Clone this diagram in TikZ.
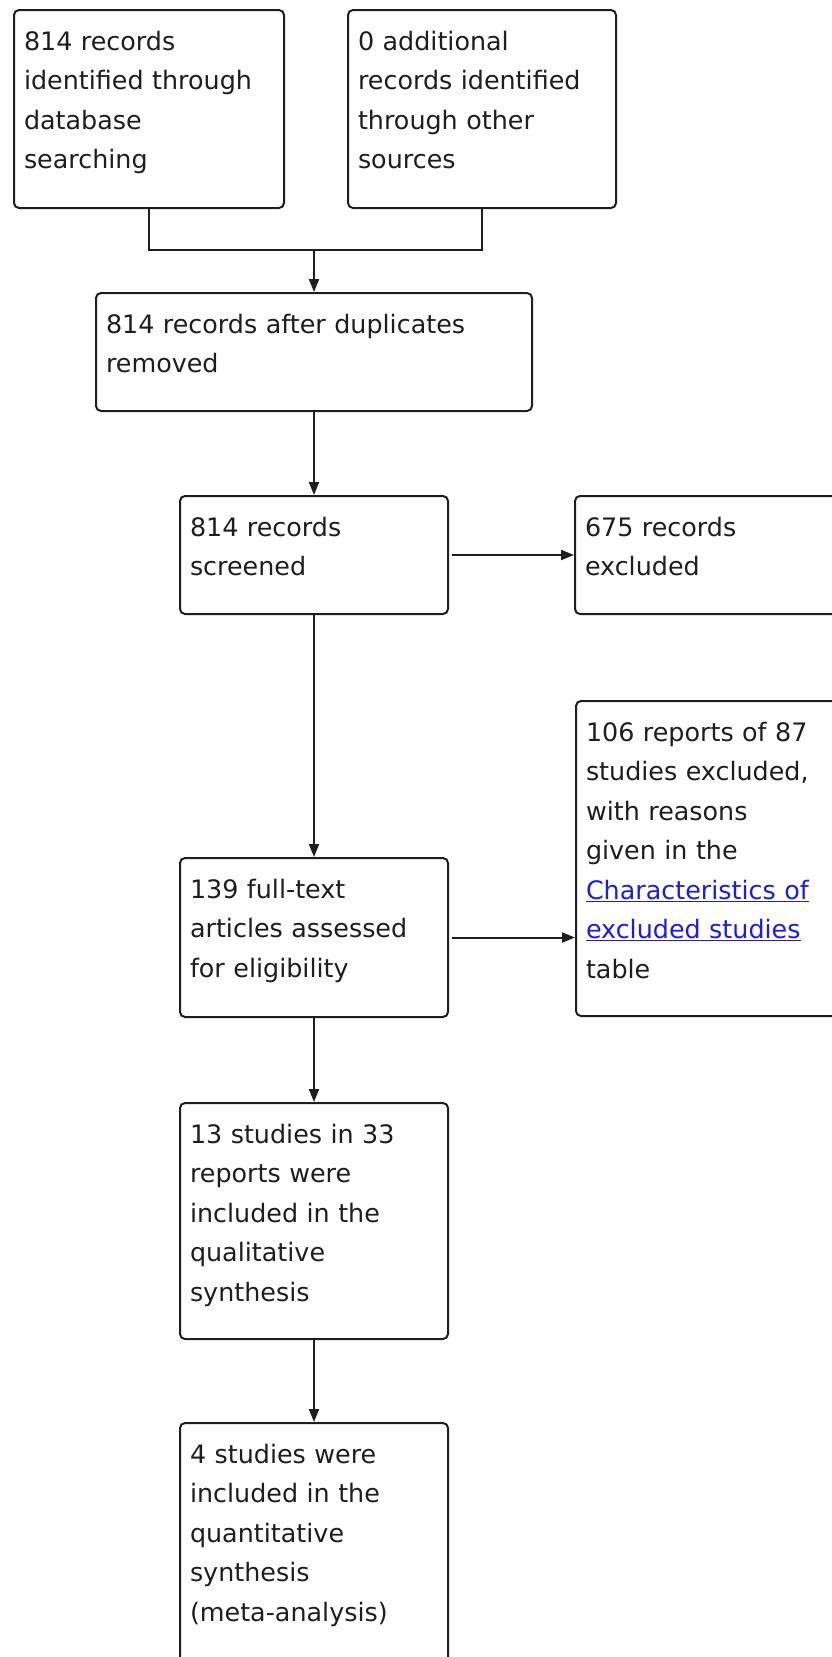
\documentclass[tikz,border=0pt]{standalone}
\usepackage{fontspec}
\usetikzlibrary{positioning,arrows.meta,calc}
\newfontfamily\prismafont{DejaVu Sans}
\newcommand{\boxfont}{\prismafont\fontsize{25.4pt}{39.5pt}\selectfont}
\definecolor{linkblue}{RGB}{28,28,232}
\definecolor{inkgray}{RGB}{30,30,30}
\tikzset{
  flowbox/.style={draw=inkgray,line width=2pt,rounded corners=5pt,align=left,
                  font=\boxfont,text=inkgray,inner xsep=10pt,inner ysep=0pt,
                  text height=40pt,anchor=north west},
  flowarr/.style={-{Triangle[length=13pt,width=10pt]},line width=2pt,draw=inkgray},
  flowline/.style={line width=2pt,draw=inkgray}
}
\newcommand{\linktext}[1]{\textcolor{linkblue}{\underline{#1}}}

\begin{document}
\begin{tikzpicture}[x=1pt,y=-1pt]
\useasboundingbox (0,0) rectangle (832,1657);
\clip (0,0) rectangle (832,1657);

% identification
\node[flowbox, text width=250pt, text depth=158pt] (dbsrc) at (13,9)
   {814 records\\ identified through\\ database\\ searching};
\node[flowbox, text width=248pt, text depth=158pt] (othersrc) at (347,9)
   {0 additional\\ records identified\\ through other\\ sources};
\node[flowbox, text width=416pt, text depth=78pt, anchor=north] (dedup) at (314,292)
   {814 records after duplicates\\ removed};

% screening
\node[flowbox, text width=248pt, text depth=78pt, below=83pt of dedup] (screen)
   {814 records\\ screened};
\node[flowbox, text width=300pt, text depth=78pt, right=125pt of screen] (excl1)
   {675 records\\ excluded};

% eligibility
\node[flowbox, text width=248pt, text depth=119pt, below=242pt of screen] (fulltext)
   {139 full-text\\ articles assessed\\ for eligibility};
\node[flowbox, text width=300pt, text depth=275pt] (excl2) at (575,700)
   {106 reports of 87\\ studies excluded,\\ with reasons\\ given in the\\
    \linktext{Characteristics of}\\ \linktext{excluded studies}\\ table};

% included
\node[flowbox, text width=248pt, text depth=196pt, below=84pt of fulltext] (qual)
   {13 studies in 33\\ reports were\\ included in the\\ qualitative\\ synthesis};
\node[flowbox, text width=248pt, text depth=300pt, below=82pt of qual] (quant)
   {4 studies were\\ included in the\\ quantitative\\ synthesis\\ (meta-analysis)};

\coordinate (join) at ($(dedup.north)+(0,-42)$);
\draw[flowline] (dbsrc.south) |- (join) -| (othersrc.south);
\draw[flowarr] (join) -- (dedup.north);
\draw[flowarr] (dedup.south) -- (screen.north);
\draw[flowarr, shorten <=3pt] (screen.east) -- (excl1.west);
\draw[flowarr] (screen.south) -- (fulltext.north);
\draw[flowarr, shorten <=3pt] (fulltext.east) -- (fulltext.east -| excl2.west);
\draw[flowarr] (fulltext.south) -- (qual.north);
\draw[flowarr] (qual.south) -- (quant.north);
\end{tikzpicture}
\end{document}
